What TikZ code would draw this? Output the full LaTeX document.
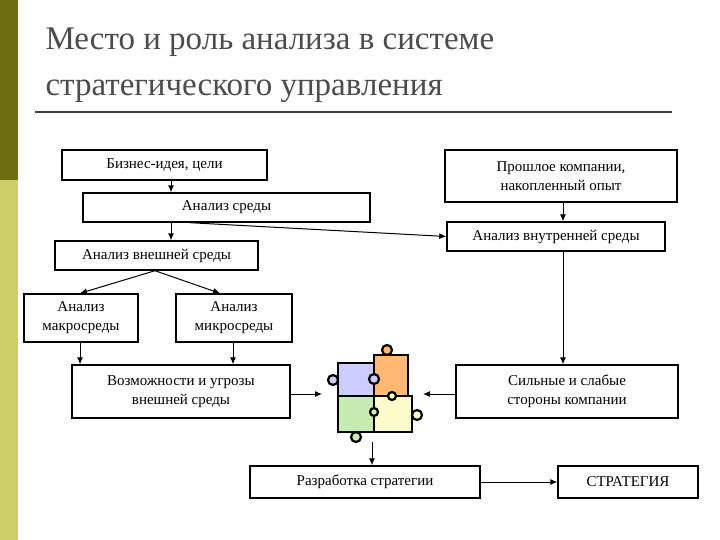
\documentclass[tikz,border=0pt]{standalone}
\usepackage{fontspec}
\setmainfont{Liberation Serif}
\usetikzlibrary{arrows.meta}
\definecolor{bartop}{HTML}{6E6E10}
\definecolor{barbot}{HTML}{CFCF6A}
\begin{document}
\begin{tikzpicture}[x=1pt,y=-1pt,
  bx/.style={draw,line width=1.4pt,inner sep=0pt,align=center,font=\rmfamily\fontsize{15}{19}\selectfont},
  ar/.style={-{Latex[length=7pt,width=6pt]},line width=1pt},
  pz/.style={draw,line width=2.2pt}]
\useasboundingbox (0,0) rectangle (720,540);
\fill[white] (0,0) rectangle (720,540);
\fill[bartop] (0,0) rectangle (18,180);
\fill[barbot] (0,180) rectangle (18,540);
\node[anchor=west,text=black!70,font=\rmfamily\fontsize{33}{46}\selectfont,align=left] (title) at (42,65) {Место и роль анализа в системе\\стратегического управления};
\draw[line width=1.2pt,black!75] (35,112) -- (672,112);
\newcommand\bxat[6]{\node[bx,minimum width=#4-#2,minimum height=#5-#3] (#1) at ({(#2+#4)/2},{(#3+#5)/2}) {#6};}
\bxat{biz}{62}{150}{267}{180}{Бизнес-идея, цели}
\bxat{past}{445}{150}{677}{202}{Прошлое компании,\\накопленный опыт}
\bxat{env}{83}{193}{370}{222}{Анализ среды}
\bxat{inn}{447}{222}{665}{251}{Анализ внутренней среды}
\bxat{ext}{55}{241}{258}{270}{Анализ внешней среды}
\bxat{macro}{24}{294}{138}{342}{Анализ\\макросреды}
\bxat{micro}{176}{294}{292}{342}{Анализ\\микросреды}
\bxat{opp}{72}{365}{290}{418}{Возможности и угрозы\\внешней среды}
\bxat{sw}{456}{365}{678}{418}{Сильные и слабые\\стороны компании}
\bxat{dev}{250}{466}{480}{498}{Разработка стратегии}
\bxat{strat}{558}{466}{698}{498}{СТРАТЕГИЯ}
% puzzle
\coordinate (pzl) at (322,394);
\coordinate (pzr) at (423,394);
\coordinate (pzb) at (372,442);
\draw[pz,fill=blue!20] (338,363) rectangle (374,396);
\draw[pz,fill=orange!55] (374,355) rectangle (408,396);
\draw[pz,fill=green!50!olive!30] (338,396) rectangle (374,432);
\draw[pz,fill=yellow!20] (374,396) rectangle (412,432);
\draw[pz,fill=orange!55] (387,350) circle (5);
\draw[pz,fill=blue!20] (333,380) circle (5);
\draw[pz,fill=green!50!olive!30] (356,437) circle (5);
\draw[pz,fill=yellow!20] (417,415) circle (5);
\draw[pz,fill=blue!20] (374,379) circle (5);
\draw[pz,fill=yellow!20] (392,396) circle (4);
\draw[pz,fill=green!50!olive!30] (374,412) circle (4);
% connectors
\draw[ar] (biz.south -| 171,0) -- (env.north -| 171,0);
\draw[ar] (env.south -| 171,0) -- (ext.north -| 171,0);
\draw[ar] (env.south -| 190,0) -- (inn.west);
\draw[ar] (past.south -| 563,0) -- (inn.north -| 563,0);
\draw[ar] (ext.south -| 155,0) -- (macro.north -| 80,0);
\draw[ar] (ext.south -| 155,0) -- (micro.north -| 220,0);
\draw[ar] (macro.south -| 80,0) -- (opp.north -| 80,0);
\draw[ar] (micro.south -| 233,0) -- (opp.north -| 233,0);
\draw[ar] (opp.east |- pzl) -- (pzl);
\draw[ar] (inn.south -| 563,0) -- (sw.north -| 563,0);
\draw[ar] (sw.west |- pzr) -- (pzr);
\draw[ar] (pzb) -- (dev.north -| 372,0);
\draw[ar] (dev.east) -- (strat.west);
\end{tikzpicture}
\end{document}
